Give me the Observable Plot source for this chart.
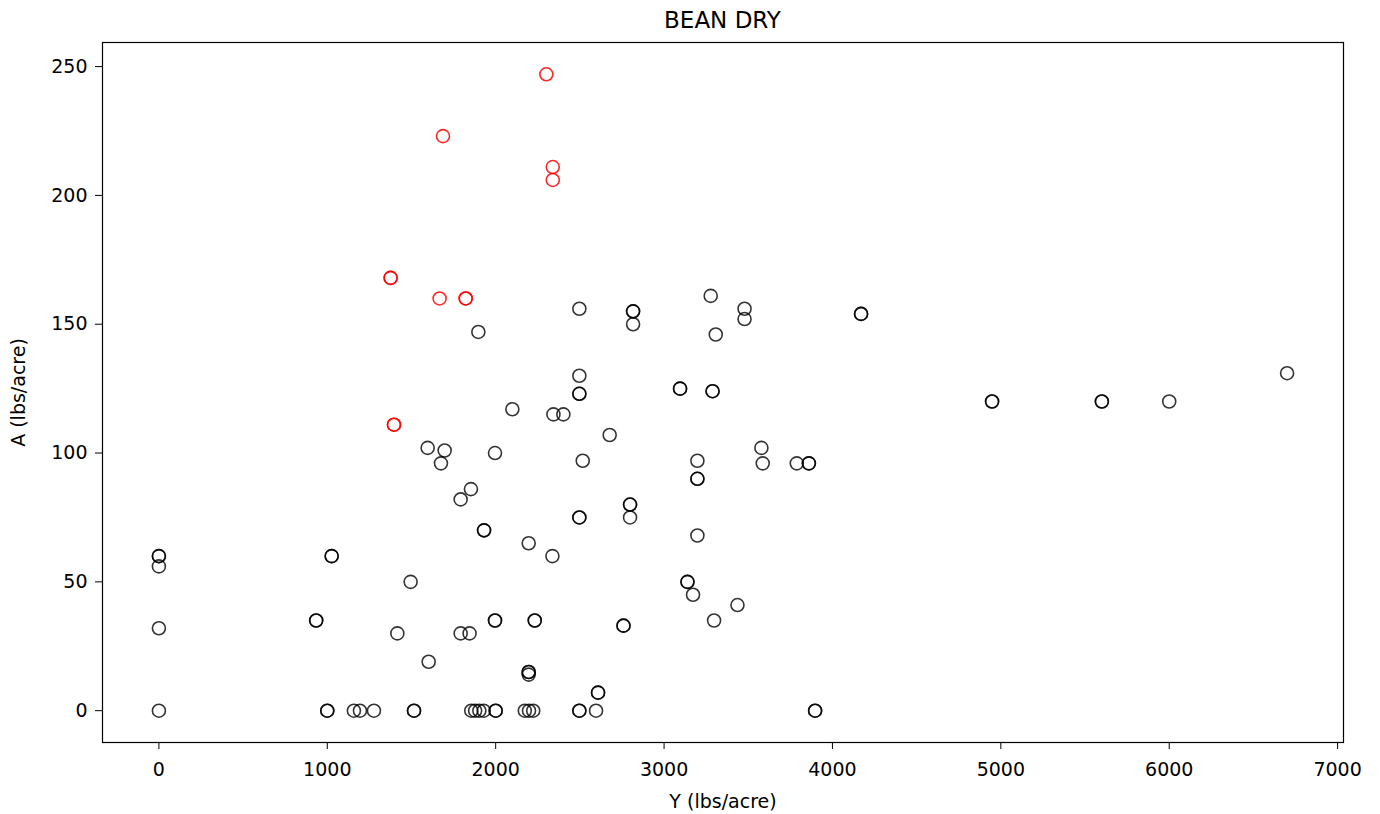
<!DOCTYPE html>
<html>
<head>
<meta charset="utf-8">
<script src="https://cdn.jsdelivr.net/npm/d3@7"></script>
<script src="https://cdn.jsdelivr.net/npm/@observablehq/plot@0.6"></script>
<style>
  html, body { margin: 0; padding: 0; background: #fff; }
  #title { height: 30px; width: 1380px; box-sizing: border-box; padding-left: 102px; padding-right: 37px; overflow: visible;
           text-align: center; font-family: "DejaVu Sans", sans-serif; font-size: 23px; line-height: 40px; color: #000; }
</style>
</head>
<body>
<div id="title">BEAN DRY</div>
<div id="chart"></div>
<script>
// Black (regular) points: Y (lbs/acre) and A (lbs/acre)
const blackX = [
  2497, 1897, 2497, 2816, 2816, 2816, 3277, 3478, 3478, 3307,
  4170, 4170, 3095, 3095, 3288, 3288, 4948, 4948, 5600, 5600,
  6000, 6700, 2497, 2497, 2099, 2343, 2402, 1596, 1697, 1675,
  1996, 2517, 2677, 3198, 3198, 3198, 3578, 3586, 3788, 3860,
  3860, 1853, 1792, 2798, 2798, 2798, 2497, 2497, 1931, 1931,
  2196, 2337, 3198, 0, 0, 0, 1026, 1026, 1495, 3139,
  3139, 3172, 3436, 0, 934, 934, 1416, 1792, 1845, 1996,
  1996, 2232, 2232, 3297, 2759, 2759, 1602, 2196, 2196, 2196,
  2608, 2608,
  0, 1000, 1000, 1158, 1194, 1277, 1515, 1515, 1855, 1878,
  1903, 1929, 2000, 2000, 2173, 2198, 2223, 2497, 2497, 2596,
  3897, 3897
];
const blackY = [
  156, 147, 130, 155, 155, 150, 161, 156, 152, 146,
  154, 154, 125, 125, 124, 124, 120, 120, 120, 120,
  120, 131, 123, 123, 117, 115, 115, 102, 101, 96,
  100, 97, 107, 97, 90, 90, 102, 96, 96, 96,
  96, 86, 82, 80, 80, 75, 75, 75, 70, 70,
  65, 60, 68, 60, 60, 56, 60, 60, 50, 50,
  50, 45, 41, 32, 35, 35, 30, 30, 30, 35,
  35, 35, 35, 35, 33, 33, 19, 15, 15, 14,
  7, 7,
  0, 0, 0, 0, 0, 0, 0, 0, 0, 0,
  0, 0, 0, 0, 0, 0, 0, 0, 0, 0,
  0, 0
];
// Red (highlighted) points
const redX = [2301, 1687, 2339, 2339, 1376, 1376, 1667, 1822, 1822, 1396, 1396];
const redY = [247, 223, 211, 206, 168, 168, 160, 160, 160, 111, 111];

// Axis ticks
const xTicks = [0, 1000, 2000, 3000, 4000, 5000, 6000, 7000];
const yTicks = [0, 50, 100, 150, 200, 250];

const black = blackX.map((x, i) => ({x, y: blackY[i]}));
const red = redX.map((x, i) => ({x, y: redY[i]}));

const chart = Plot.plot({
  width: 1380,
  height: 784,
  marginTop: 12,
  marginLeft: 102,
  marginRight: 37,
  marginBottom: 72,
  style: {fontFamily: "DejaVu Sans, sans-serif", fontSize: "19px", color: "#000", background: "#fff"},
  x: {domain: [-335, 7035]},
  y: {domain: [-12.35, 259.35]},
  marks: [
    Plot.dot(black, {x: "x", y: "y", r: 6.5, stroke: "black", strokeOpacity: 0.8, strokeWidth: 1.6, fill: "none"}),
    Plot.dot(red, {x: "x", y: "y", r: 6.5, stroke: "red", strokeOpacity: 0.85, strokeWidth: 1.6, fill: "none"}),
    Plot.frame({stroke: "black", strokeWidth: 1.2}),
    Plot.axisX({ticks: xTicks, tickFormat: d => String(d), tickSize: 7, tickPadding: 13, label: "Y (lbs/acre)", labelAnchor: "center", labelArrow: "none", labelOffset: 65, fontSize: 19}),
    Plot.axisY({ticks: yTicks, tickFormat: d => String(d), tickSize: 7, tickPadding: 8, label: "A (lbs/acre)", labelAnchor: "center", labelArrow: "none", labelOffset: 91, fontSize: 19})
  ]
});
document.getElementById("chart").appendChild(chart);
</script>
</body>
</html>
